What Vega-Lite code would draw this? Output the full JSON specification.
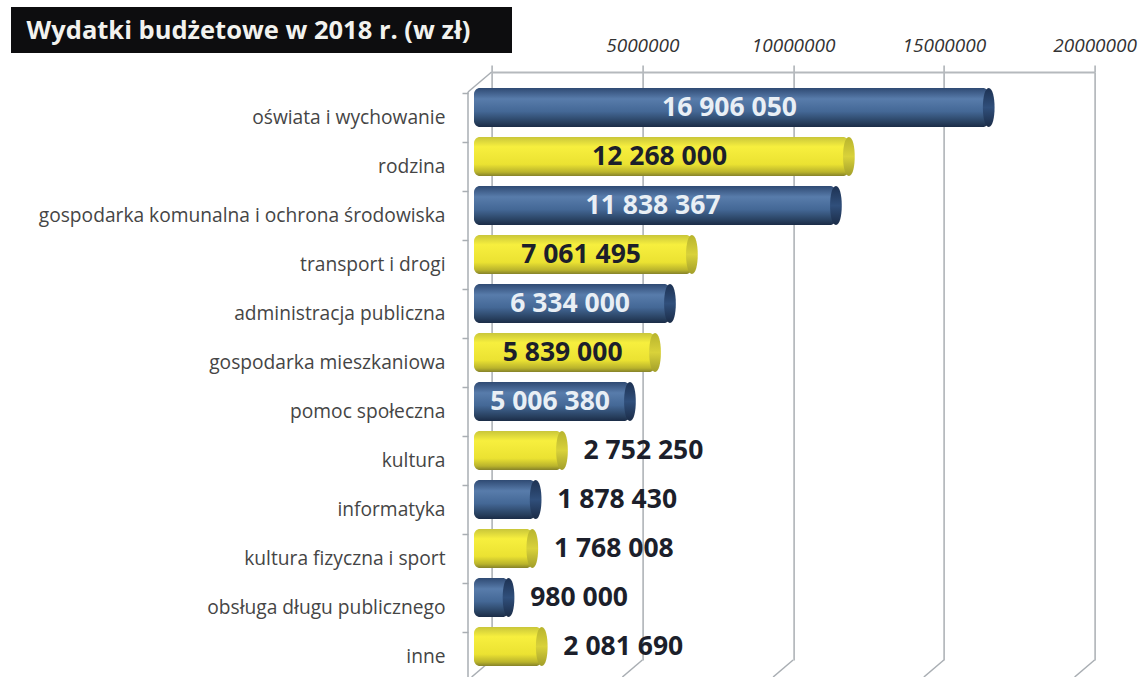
{
"$schema":"https://vega.github.io/schema/vega-lite/v6.json",
"width":603,"height":588,
"autosize":{"type":"none"},
"padding":{"left":491.6,"top":72,"right":49.4,"bottom":17},
"background":"#ffffff",
"view":{"stroke":null},
"datasets":{
"wydatki":[
{"kategoria":"oświata i wychowanie","kwota":16906050,"etykieta":"16 906 050","kolor":"niebieski","wewnatrz":true},
{"kategoria":"rodzina","kwota":12268000,"etykieta":"12 268 000","kolor":"zolty","wewnatrz":true},
{"kategoria":"gospodarka komunalna  i ochrona środowiska","kwota":11838367,"etykieta":"11 838 367","kolor":"niebieski","wewnatrz":true},
{"kategoria":"transport i drogi","kwota":7061495,"etykieta":"7 061 495","kolor":"zolty","wewnatrz":true},
{"kategoria":"administracja publiczna","kwota":6334000,"etykieta":"6 334 000","kolor":"niebieski","wewnatrz":true},
{"kategoria":"gospodarka mieszkaniowa","kwota":5839000,"etykieta":"5 839 000","kolor":"zolty","wewnatrz":true},
{"kategoria":"pomoc społeczna","kwota":5006380,"etykieta":"5 006 380","kolor":"niebieski","wewnatrz":true},
{"kategoria":"kultura","kwota":2752250,"etykieta":"2 752 250","kolor":"zolty","wewnatrz":false},
{"kategoria":"informatyka","kwota":1878430,"etykieta":"1 878 430","kolor":"niebieski","wewnatrz":false},
{"kategoria":"kultura fizyczna i sport","kwota":1768008,"etykieta":"1 768 008","kolor":"zolty","wewnatrz":false},
{"kategoria":"obsługa długu publicznego","kwota":980000,"etykieta":"980 000","kolor":"niebieski","wewnatrz":false},
{"kategoria":"inne","kwota":2081690,"etykieta":"2 081 690","kolor":"zolty","wewnatrz":false}
],
"siatka":[{"kwota":0},{"kwota":5000000},{"kwota":10000000},{"kwota":15000000},{"kwota":20000000}]
},
"data":{"name":"wydatki"},
"encoding":{
"y":{"field":"kategoria","type":"nominal","title":null,"scale":{"domain":["oświata i wychowanie","rodzina","gospodarka komunalna  i ochrona środowiska","transport i drogi","administracja publiczna","gospodarka mieszkaniowa","pomoc społeczna","kultura","informatyka","kultura fizyczna i sport","obsługa długu publicznego","inne"]},"axis":{"orient":"left","offset":23.6,"domain":false,"tickOffset":-3.5,"labelOffset":24.5,"tickSize":6,"tickColor":"#a9aeb3","tickWidth":1.5,"labelPadding":17,"labelLimit":600,"labelFont":"Open Sans","labelFontSize":19.2,"labelColor":"#454545","grid":false}},
"x":{"field":"kwota","type":"quantitative","title":null,"axis":null,"scale":{"domain":[0,20000000],"nice":false,"zero":false}}
},
"resolve":{"scale":{"x":"independent"},"axis":{"x":"independent"}},
"layer":[
{"mark":{"type":"rect","color":"#0d0d0f"},
"data":{"values":[{"kwota":0}]},
"encoding":{"x":{"value":-480.6},"x2":{"value":20.4},"y":{"value":-65},"y2":{"value":-19}}},
{"mark":{"type":"text","align":"left","baseline":"alphabetic","color":"#f2f2ee","font":"Open Sans","fontWeight":"bold","fontSize":25.5},
"data":{"values":[{"tytul":"Wydatki  budżetowe w 2018 r. (w zł)"}]},
"encoding":{"x":{"value":-465},"y":{"value":-33},"text":{"field":"tytul"}}},
{"mark":{"type":"rule","opacity":0},
"data":{"name":"siatka"},
"encoding":{"y":{"value":0},
"x":{"field":"kwota","type":"quantitative","title":null,"scale":{"domain":[0,20000000],"nice":false,"zero":false},
"axis":{"orient":"top","values":[0,5000000,10000000,15000000,20000000],"labelExpr":"datum.value===0?'':format(datum.value,'d')","grid":true,"gridColor":"#a9aeb3","gridWidth":1.5,"domain":true,"domainColor":"#b5b9bd","domainWidth":2,"ticks":true,"tickColor":"#a9aeb3","tickWidth":1.5,"tickSize":7,"labelPadding":10,"labelFont":"Open Sans","labelFontStyle":"italic","labelFontSize":19,"labelColor":"#333333","labelAngle":0,"labelFlush":false,"labelOverlap":false}}}},
{"mark":{"type":"rule","color":"#a9aeb3","strokeWidth":1.5,"x2Offset":-20},
"data":{"name":"siatka"},
"encoding":{"x2":{"field":"kwota"},"y":{"value":588},"y2":{"value":605}}},
{"mark":{"type":"rule","color":"#a9aeb3","strokeWidth":1.5,"x2Offset":-23.6},
"data":{"values":[{"kwota":0}]},
"encoding":{"x2":{"field":"kwota"},"y":{"value":0},"y2":{"value":20}}},
{"mark":{"type":"rule","color":"#a9aeb3","strokeWidth":1.5,"xOffset":-23.6,"x2Offset":-23.6},
"data":{"values":[{"kwota":0}]},
"encoding":{"x2":{"field":"kwota"},"y":{"value":20},"y2":{"value":605}}},
{"transform":[{"filter":"datum.kolor==='niebieski'"}],
"mark":{"type":"bar","height":39,"yOffset":11,"xOffset":-12.6,"x2Offset":-17.6,"cornerRadius":6,
"fill":{"gradient":"linear","x1":0,"y1":0,"x2":0,"y2":1,"stops":[{"offset":0,"color":"#2f4a73"},{"offset":0.28,"color":"#587cab"},{"offset":0.6,"color":"#446896"},{"offset":0.88,"color":"#28405f"},{"offset":1,"color":"#1b2c47"}]}},
"encoding":{"x2":{"datum":0}}},
{"transform":[{"filter":"datum.kolor==='zolty'"}],
"mark":{"type":"bar","height":39,"yOffset":11,"xOffset":-12.6,"x2Offset":-17.6,"cornerRadius":6,
"fill":{"gradient":"linear","x1":0,"y1":0,"x2":0,"y2":1,"stops":[{"offset":0,"color":"#c9c63a"},{"offset":0.25,"color":"#f7ef3e"},{"offset":0.7,"color":"#ebe232"},{"offset":0.9,"color":"#b9b32c"},{"offset":1,"color":"#85822a"}]}},
"encoding":{"x2":{"datum":0}}},
{"transform":[{"filter":"datum.kolor==='niebieski'"}],
"mark":{"type":"point","filled":true,"opacity":1,"size":1521,"yOffset":11,"xOffset":-12.6,"shape":"M0,-1C0.4,-1 0.4,1 0,1C-0.4,1 -0.4,-1 0,-1Z",
"fill":{"gradient":"linear","x1":0,"y1":0,"x2":0,"y2":1,"stops":[{"offset":0,"color":"#1d3253"},{"offset":0.5,"color":"#304f7b"},{"offset":1,"color":"#1b2c47"}]}}},
{"transform":[{"filter":"datum.kolor==='zolty'"}],
"mark":{"type":"point","filled":true,"opacity":1,"size":1521,"yOffset":11,"xOffset":-12.6,"shape":"M0,-1C0.4,-1 0.4,1 0,1C-0.4,1 -0.4,-1 0,-1Z",
"fill":{"gradient":"linear","x1":0,"y1":0,"x2":0,"y2":1,"stops":[{"offset":0,"color":"#b8b42e"},{"offset":0.5,"color":"#d9d23a"},{"offset":1,"color":"#a29e2a"}]}}},
{"transform":[{"filter":"datum.wewnatrz"}],
"mark":{"type":"text","align":"center","baseline":"middle","yOffset":11,"xOffset":-17,"font":"Open Sans","fontWeight":"bold","fontSize":26.5},
"encoding":{"x":{"field":"kwota","type":"quantitative","axis":null,"title":null,"scale":{"domain":[0,40000000],"nice":false,"zero":false}},
"text":{"field":"etykieta"},
"color":{"condition":{"test":"datum.kolor==='niebieski'","value":"#e9eff5"},"value":"#1c1f2b"}}},
{"transform":[{"filter":"!datum.wewnatrz"}],
"mark":{"type":"text","align":"left","baseline":"middle","yOffset":11,"xOffset":9,"font":"Open Sans","fontWeight":"bold","fontSize":26.5,"color":"#1c1f2b"},
"encoding":{"text":{"field":"etykieta"}}}
]
}
